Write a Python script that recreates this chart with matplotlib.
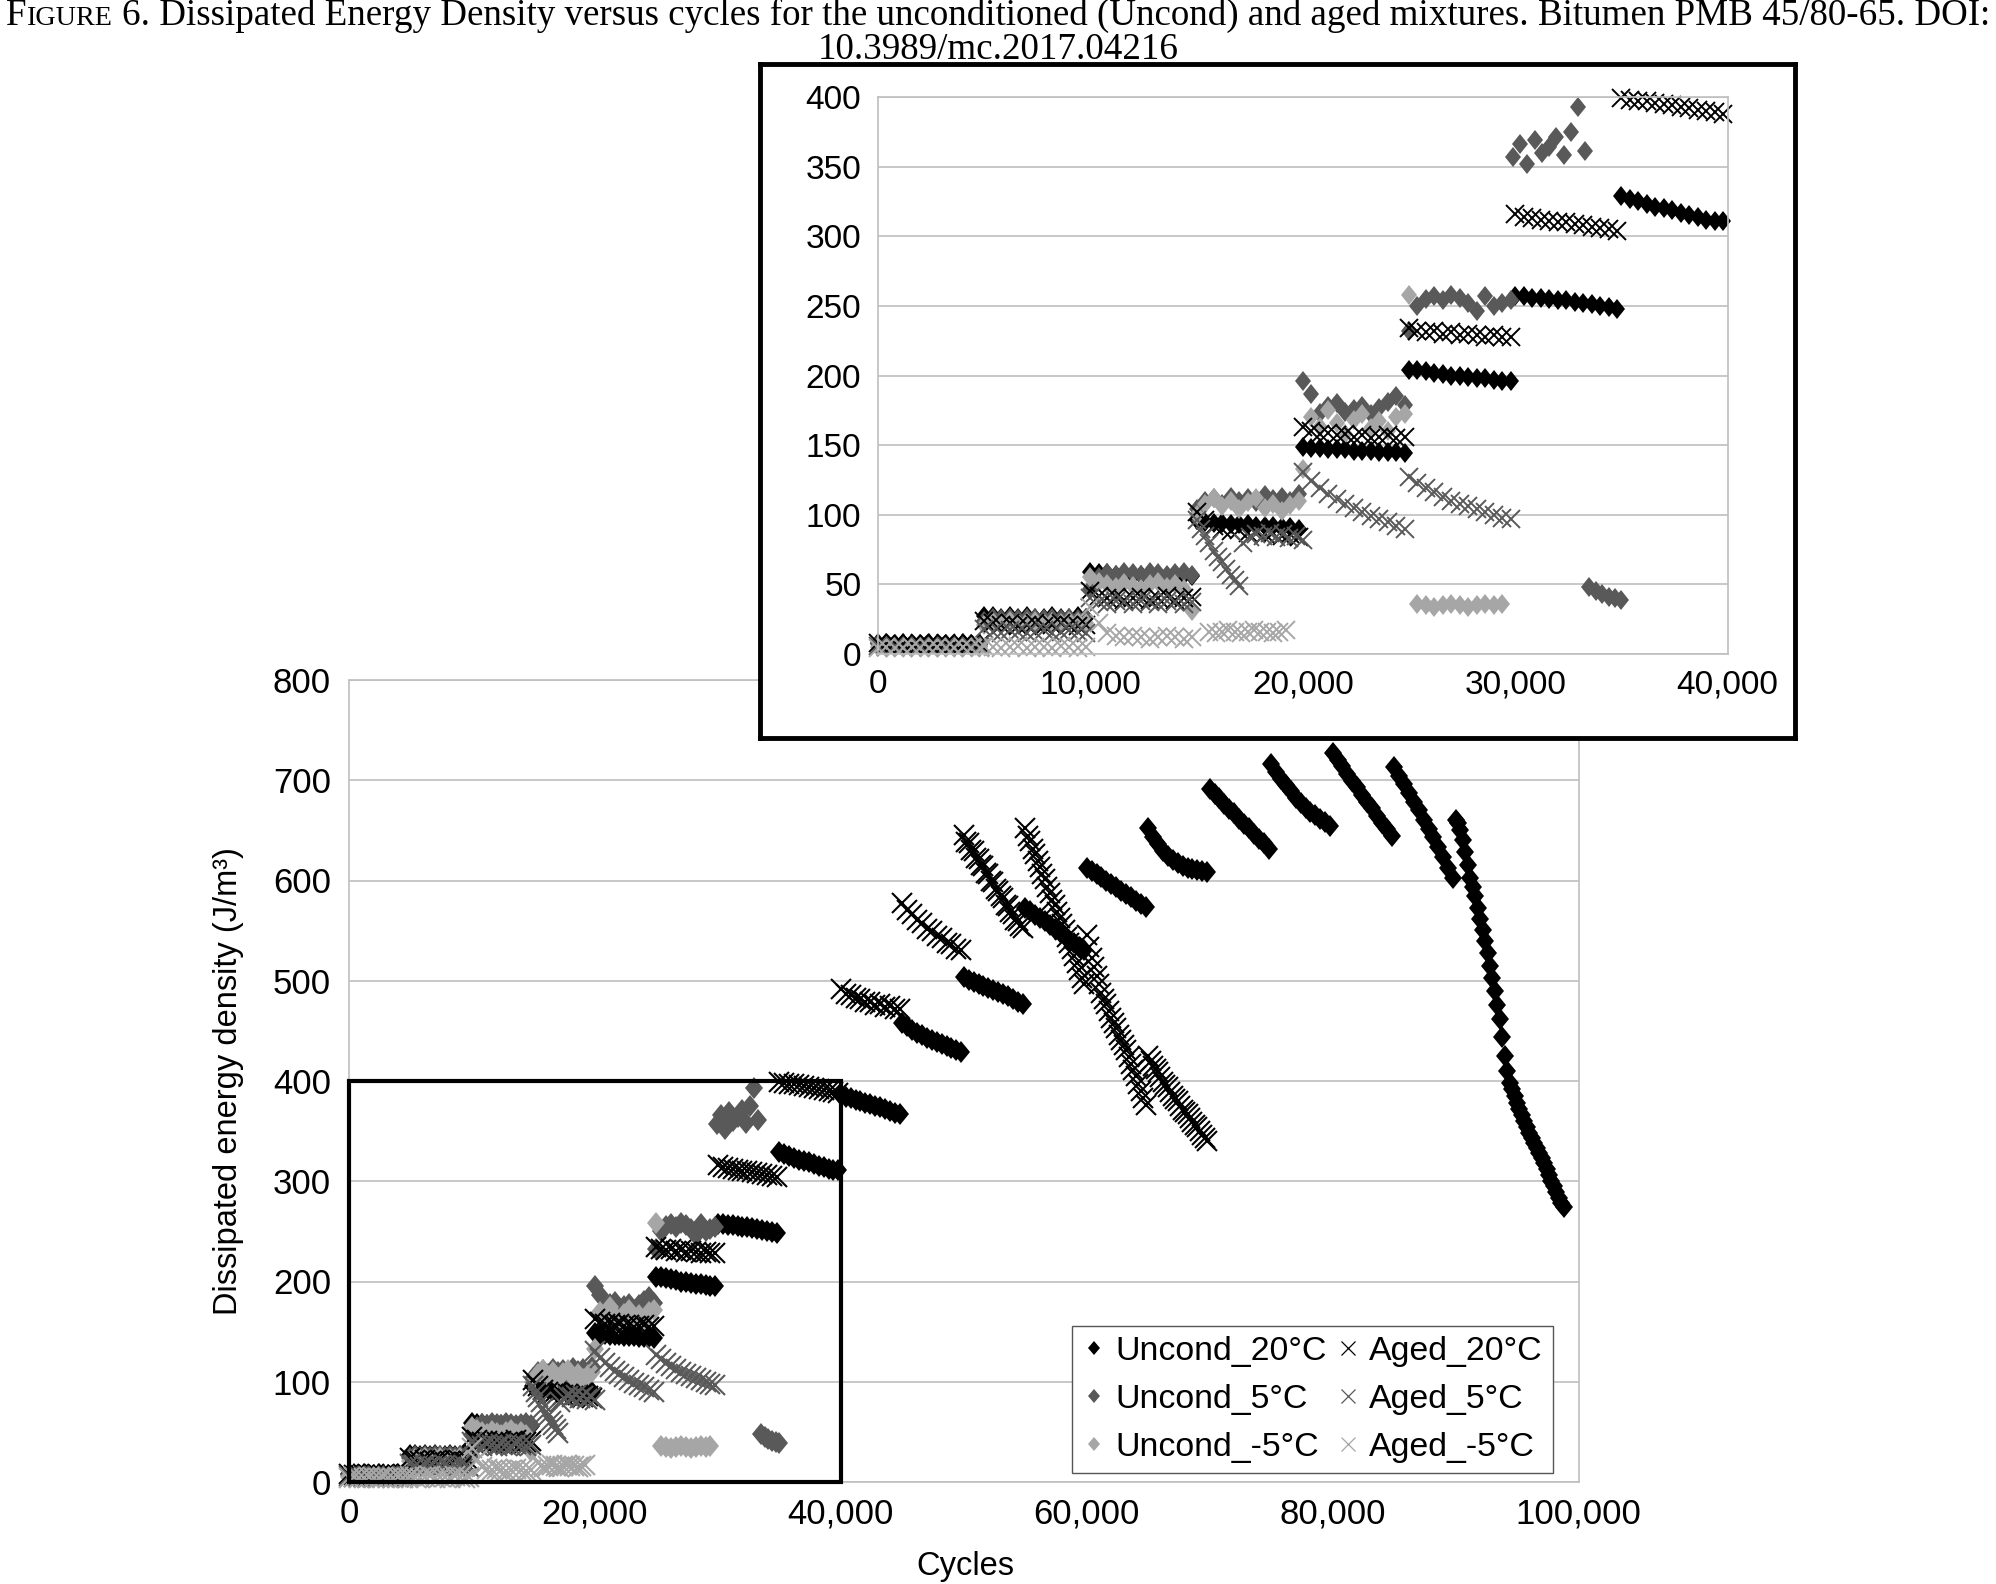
import numpy as np
import matplotlib
matplotlib.use("Agg")
import matplotlib.pyplot as plt
from matplotlib.markers import MarkerStyle
from matplotlib.transforms import Affine2D
from matplotlib.patches import Rectangle
from matplotlib.ticker import FuncFormatter, MultipleLocator

plt.rcParams['font.family'] = ['Liberation Sans', 'DejaVu Sans']

# each block: (first cycle, cycles between readings, readings in J/m3)
uncond_20 = [
    (0, 400, [8, 8, 7, 8, 7, 7, 8, 7, 7, 7, 8, 7, 7]),
    (5000, 400, [27, 27, 26, 27, 26, 27, 26, 26, 27, 26, 26, 27, 26]),
    (10000, 400, [59, 58, 58, 57, 58, 57, 57, 58, 57, 56, 57, 57, 56]),
    (15000, 400, [96, 95, 94, 94, 93, 93, 93, 92, 92, 92, 91, 91, 90]),
    (20000, 400, [149, 148, 148, 147, 147, 147, 146, 146, 146, 145, 145, 145, 144]),
    (25000, 400, [204, 204, 203, 202, 201, 200, 200, 199, 198, 198, 197, 196, 196]),
    (30000, 400, [257, 257, 256, 256, 255, 254, 254, 253, 252, 251, 250, 249, 248]),
    (35000, 400, [329, 327, 325, 323, 321, 320, 319, 317, 315, 314, 312, 311, 311]),
    (40000, 400, [386, 384, 383, 381, 380, 378, 377, 375, 374, 372, 370, 368, 367]),
    (45000, 400, [458, 455, 451, 448, 446, 443, 441, 439, 437, 435, 433, 431, 429]),
    (50000, 400, [504, 501, 499, 497, 495, 493, 491, 489, 487, 485, 482, 479, 477]),
    (55000, 400, [573, 570, 566, 563, 560, 556, 552, 549, 545, 541, 538, 534, 531]),
    (60000, 400, [612, 609, 606, 603, 600, 597, 594, 590, 587, 584, 580, 577, 574]),
    (65000, 400, [652, 643, 636, 629, 624, 620, 617, 614, 612, 611, 610, 609, 608]),
    (70000, 400, [691, 686, 682, 676, 671, 667, 661, 656, 652, 646, 641, 637, 631]),
    (75000, 400, [716, 708, 701, 695, 689, 682, 677, 672, 668, 665, 661, 658, 654]),
    (80000, 400, [727, 720, 714, 706, 699, 693, 685, 678, 672, 664, 657, 651, 644]),
    (85000, 400, [713, 704, 696, 687, 678, 670, 660, 651, 643, 633, 623, 612, 602]),
    (90000, 200, [660, 657, 650, 640, 628, 615, 602, 594, 585, 573, 562, 551, 540, 528, 515,
                  503, 490, 476, 462, 444, 425, 410, 398, 392, 385, 378, 372, 366, 360, 354,
                  348, 343, 338, 333, 328, 323, 318, 312, 306, 300, 295, 289, 283, 278, 274]),
]
uncond_5 = [
    (0, 400, [7, 6, 7, 6, 6, 7, 6, 6, 7, 6, 6, 7, 6]),
    (5000, 400, [24, 26, 25, 26, 25, 26, 26, 25, 26, 25, 26, 25, 26]),
    (10000, 400, [47, 55, 58, 57, 59, 58, 57, 59, 58, 57, 58, 59, 57]),
    (15000, 400, [104, 110, 112, 108, 113, 110, 112, 109, 114, 111, 113, 110, 115]),
    (20000, 400, [196, 187, 173, 178, 180, 174, 176, 178, 172, 177, 181, 185, 179]),
    (25000, 400, [232, 250, 255, 257, 254, 258, 256, 252, 246, 257, 250, 252, 254]),
    (29900, 340, [357, 366, 352, 369, 360, 364, 371, 358, 375, 393, 361]),
    (33500, 300, [48, 45, 43, 41, 40, 39]),
]
uncond_m5 = [
    (0, 400, [5, 6, 5, 5, 6, 5, 5, 6, 5, 5, 5, 6, 5]),
    (5000, 400, [21, 23, 22, 24, 22, 23, 24, 22, 23, 22, 24, 23, 22]),
    (10000, 400, [55, 52, 50, 48, 51, 49, 47, 50, 52, 48, 50, 47, 31]),
    (15000, 400, [100, 108, 112, 106, 110, 104, 109, 112, 105, 108, 103, 107, 110]),
    (20000, 400, [133, 170, 163, 175, 166, 158, 168, 172, 162, 167, 160, 170, 172]),
    (25000, 400, [258, 36, 35, 34, 35, 36, 35, 34, 35, 36, 35, 36]),
]
aged_20 = [
    (0, 400, [8, 7, 8, 7, 7, 8, 7, 7, 8, 7, 7, 8, 7]),
    (5000, 400, [24, 22, 21, 22, 20, 21, 22, 20, 21, 22, 21, 20, 21]),
    (10000, 400, [45, 42, 40, 41, 39, 40, 41, 39, 40, 42, 39, 40, 41]),
    (15000, 400, [102, 96, 92, 90, 88, 89, 87, 88, 86, 87, 85, 86, 84]),
    (20000, 400, [163, 160, 158, 159, 157, 158, 156, 157, 155, 156, 157, 155, 156]),
    (25000, 400, [234, 232, 231, 232, 230, 231, 229, 230, 229, 228, 229, 228, 228]),
    (30000, 400, [316, 314, 313, 312, 311, 310, 310, 309, 308, 307, 306, 305, 304]),
    (35000, 400, [399, 398, 397, 397, 396, 395, 394, 393, 392, 391, 390, 389, 388]),
    (40000, 400, [492, 487, 486, 483, 482, 479, 479, 476, 477, 474, 475, 472, 472]),
    (45000, 400, [578, 571, 567, 561, 558, 552, 550, 545, 543, 538, 537, 532, 531]),
    (50000, 200, [645, 638, 637, 630, 629, 622, 621, 615, 614, 607, 606, 600, 599, 592, 590,
                  585, 583, 576, 575, 569, 567, 561, 560, 555, 553]),
    (55000, 200, [652, 644, 639, 631, 626, 619, 613, 606, 601, 594, 588, 581, 576, 569, 563,
                  557, 551, 544, 538, 532, 525, 518, 511, 503, 497]),
    (60000, 200, [546, 534, 523, 514, 505, 497, 488, 482, 477, 470, 463, 458, 453, 446, 441,
                  436, 431, 424, 417, 411, 405, 397, 390, 383, 376]),
    (65000, 200, [425, 420, 415, 412, 409, 404, 399, 396, 394, 389, 385, 382, 380, 375, 371,
                  369, 367, 363, 359, 356, 354, 350, 346, 343, 340]),
]
aged_5 = [
    (0, 400, [6, 5, 6, 5, 5, 6, 5, 5, 6, 5, 5, 6, 5]),
    (5000, 400, [18, 16, 15, 17, 16, 15, 16, 17, 15, 16, 17, 16, 15]),
    (10000, 400, [40, 37, 36, 38, 37, 36, 38, 37, 36, 38, 37, 36, 37]),
    (15000, 200, [96, 90, 85, 80, 74, 70, 66, 61, 57, 53, 49]),
    (17200, 310, [80, 84, 86, 85, 87, 84, 86, 83, 85, 82]),
    (20000, 400, [131, 124, 119, 115, 111, 108, 105, 102, 99, 97, 95, 92, 90]),
    (25000, 400, [127, 123, 119, 116, 113, 110, 108, 106, 104, 102, 100, 98, 97]),
]
aged_m5 = [
    (0, 400, [4, 5, 4, 4, 5, 4, 4, 5, 4, 4, 5, 4, 4]),
    (5000, 400, [6, 5, 4, 5, 6, 4, 5, 5, 4, 6, 5, 4, 5]),
    (10000, 400, [34, 22, 15, 13, 12, 13, 12, 11, 12, 13, 12, 11, 12]),
    (15600, 300, [16, 15, 16, 17, 16, 15, 16, 17, 16, 16, 15, 16, 17]),
]

labels = ["Uncond_20°C", "Uncond_5°C", "Uncond_-5°C", "Aged_20°C", "Aged_5°C", "Aged_-5°C"]
series = [uncond_20, uncond_5, uncond_m5, aged_20, aged_5, aged_m5]
colors = ["#000000", "#595959", "#a6a6a6", "#000000", "#595959", "#a6a6a6"]

main_xticks = [0, 20000, 40000, 60000, 80000, 100000]
inset_xticks = [0, 10000, 20000, 30000, 40000]


def unpack(blocks):
    xs, ys = [], []
    for start, step, vals in blocks:
        for i, v in enumerate(vals):
            xs.append(start + i * step)
            ys.append(v)
    return np.array(xs), np.array(ys)


diamond = MarkerStyle('D', transform=Affine2D().scale(0.8, 1.0))


def style(k, big):
    if k < 3:
        ms = 11.5 if big else 10
        return dict(marker=diamond, markersize=ms, mew=0, mfc=colors[k], mec=colors[k])
    ms = 15 if big else 13
    return dict(marker='x', markersize=ms, mew=1.5 if big else 1.4, mec=colors[k])


comma = FuncFormatter(lambda v, p: "{:,.0f}".format(v))
grid_c = "#bfbfbf"

fig = plt.figure(figsize=(19.96, 15.84), dpi=100)
W, H = 1996, 1584

# main chart
ax = fig.add_axes([349 / W, 1 - 1482 / H, 1229.5 / W, 802 / H])
for k, blocks in enumerate(series):
    x, y = unpack(blocks)
    ax.plot(x, y, ls='none', clip_on=False, **style(k, True))
ax.set_xlim(0, 100000)
ax.set_ylim(0, 800)
ax.set_xticks(main_xticks)
ax.yaxis.set_major_locator(MultipleLocator(100))
ax.xaxis.set_major_formatter(comma)
ax.grid(axis='y', color=grid_c, lw=1.2)
ax.set_axisbelow(True)
for s in ax.spines.values():
    s.set_color(grid_c)
    s.set_linewidth(1.2)
ax.tick_params(length=0, labelsize=25)
ax.tick_params(axis='y', pad=13)
ax.tick_params(axis='x', pad=11)
ax.add_patch(Rectangle((0, 0), 40000, 400, fill=False, ec='black', lw=3, zorder=6, clip_on=False))

# legend keys drawn a little smaller than the chart markers
handles = []
for k in range(6):
    st = style(k, False)
    if k < 3:
        st['markersize'] = 7.5
    else:
        st['markersize'] = 10
        st['mew'] = 0.9
    h, = ax.plot([], [], ls='none', label=labels[k], **st)
    handles.append(h)
leg = ax.legend(handles=handles, ncol=2, loc='lower left', bbox_to_anchor=(0.588, 0.011),
                fontsize=24.4, frameon=True, fancybox=False, framealpha=1, edgecolor='#555555',
                handlelength=0.7, handletextpad=0.27, columnspacing=0.3, labelspacing=0.5,
                borderpad=0.3, borderaxespad=0)
leg.get_frame().set_linewidth(1.0)
leg.set_zorder(7)

fig.text(229 / W, 1 - 1081 / H, "Dissipated energy density (J/m³)", rotation=90,
         ha='center', va='center', fontsize=23.5)
fig.text(965 / W, 1 - 1566 / H, "Cycles", ha='center', va='center', fontsize=23.5)

# inset frame and inset chart
frame = fig.add_axes([760 / W, 1 - 738 / H, 1035 / W, 674 / H])
frame.set_xticks([])
frame.set_yticks([])
frame.set_facecolor('white')
for s in frame.spines.values():
    s.set_linewidth(3.5)
    s.set_color('black')
frame.set_zorder(10)

ins = fig.add_axes([878 / W, 1 - 654 / H, 849.5 / W, 557 / H])
ins.set_zorder(11)
for k, blocks in enumerate(series):
    x, y = unpack(blocks)
    keep = (x < 40000) & (y <= 400)
    ins.plot(x[keep], y[keep], ls='none', clip_on=False, **style(k, False))
ins.set_xlim(0, 40000)
ins.set_ylim(0, 400)
ins.set_xticks(inset_xticks)
ins.yaxis.set_major_locator(MultipleLocator(50))
ins.xaxis.set_major_formatter(comma)
ins.grid(axis='y', color=grid_c, lw=1.2)
ins.set_axisbelow(True)
for s in ins.spines.values():
    s.set_color(grid_c)
    s.set_linewidth(1.2)
ins.tick_params(length=0, labelsize=24)
ins.tick_params(axis='y', pad=12)
ins.tick_params(axis='x', pad=11)

# caption with small caps "Figure", scaled to span the page width
renderer = fig.canvas.get_renderer()
serif = ['Liberation Serif', 'DejaVu Serif']
pieces = [("F", 1.0, 0.0), ("IGURE", 0.76, 0.0),
          ("6. Dissipated Energy Density versus cycles for the unconditioned (Uncond) and aged mixtures. "
           "Bitumen PMB 45/80-65. DOI:", 1.0, 0.25)]
base = 20.0
texts = [fig.text(0, 1 - 25 / H, s, fontsize=base * r, family=serif, va='baseline', ha='left')
         for s, r, g in pieces]
widths = [t.get_window_extent(renderer).width for t in texts]
total = sum(widths) + sum(g * base * 100 / 72 for s, r, g in pieces)
fs = base * 1988 / total
for t, (s, r, g) in zip(texts, pieces):
    t.set_fontsize(fs * r)
widths = [t.get_window_extent(renderer).width for t in texts]
gaps = [g * fs * 100 / 72 for s, r, g in pieces]
xpos = (W - sum(widths) - sum(gaps)) / 2
for t, w, g in zip(texts, widths, gaps):
    xpos += g
    t.set_x(xpos / W)
    xpos += w
fig.text(0.5, 1 - 59 / H, "10.3989/mc.2017.04216", fontsize=fs, family=serif,
         va='baseline', ha='center')

fig.savefig("out.png", dpi=100)
